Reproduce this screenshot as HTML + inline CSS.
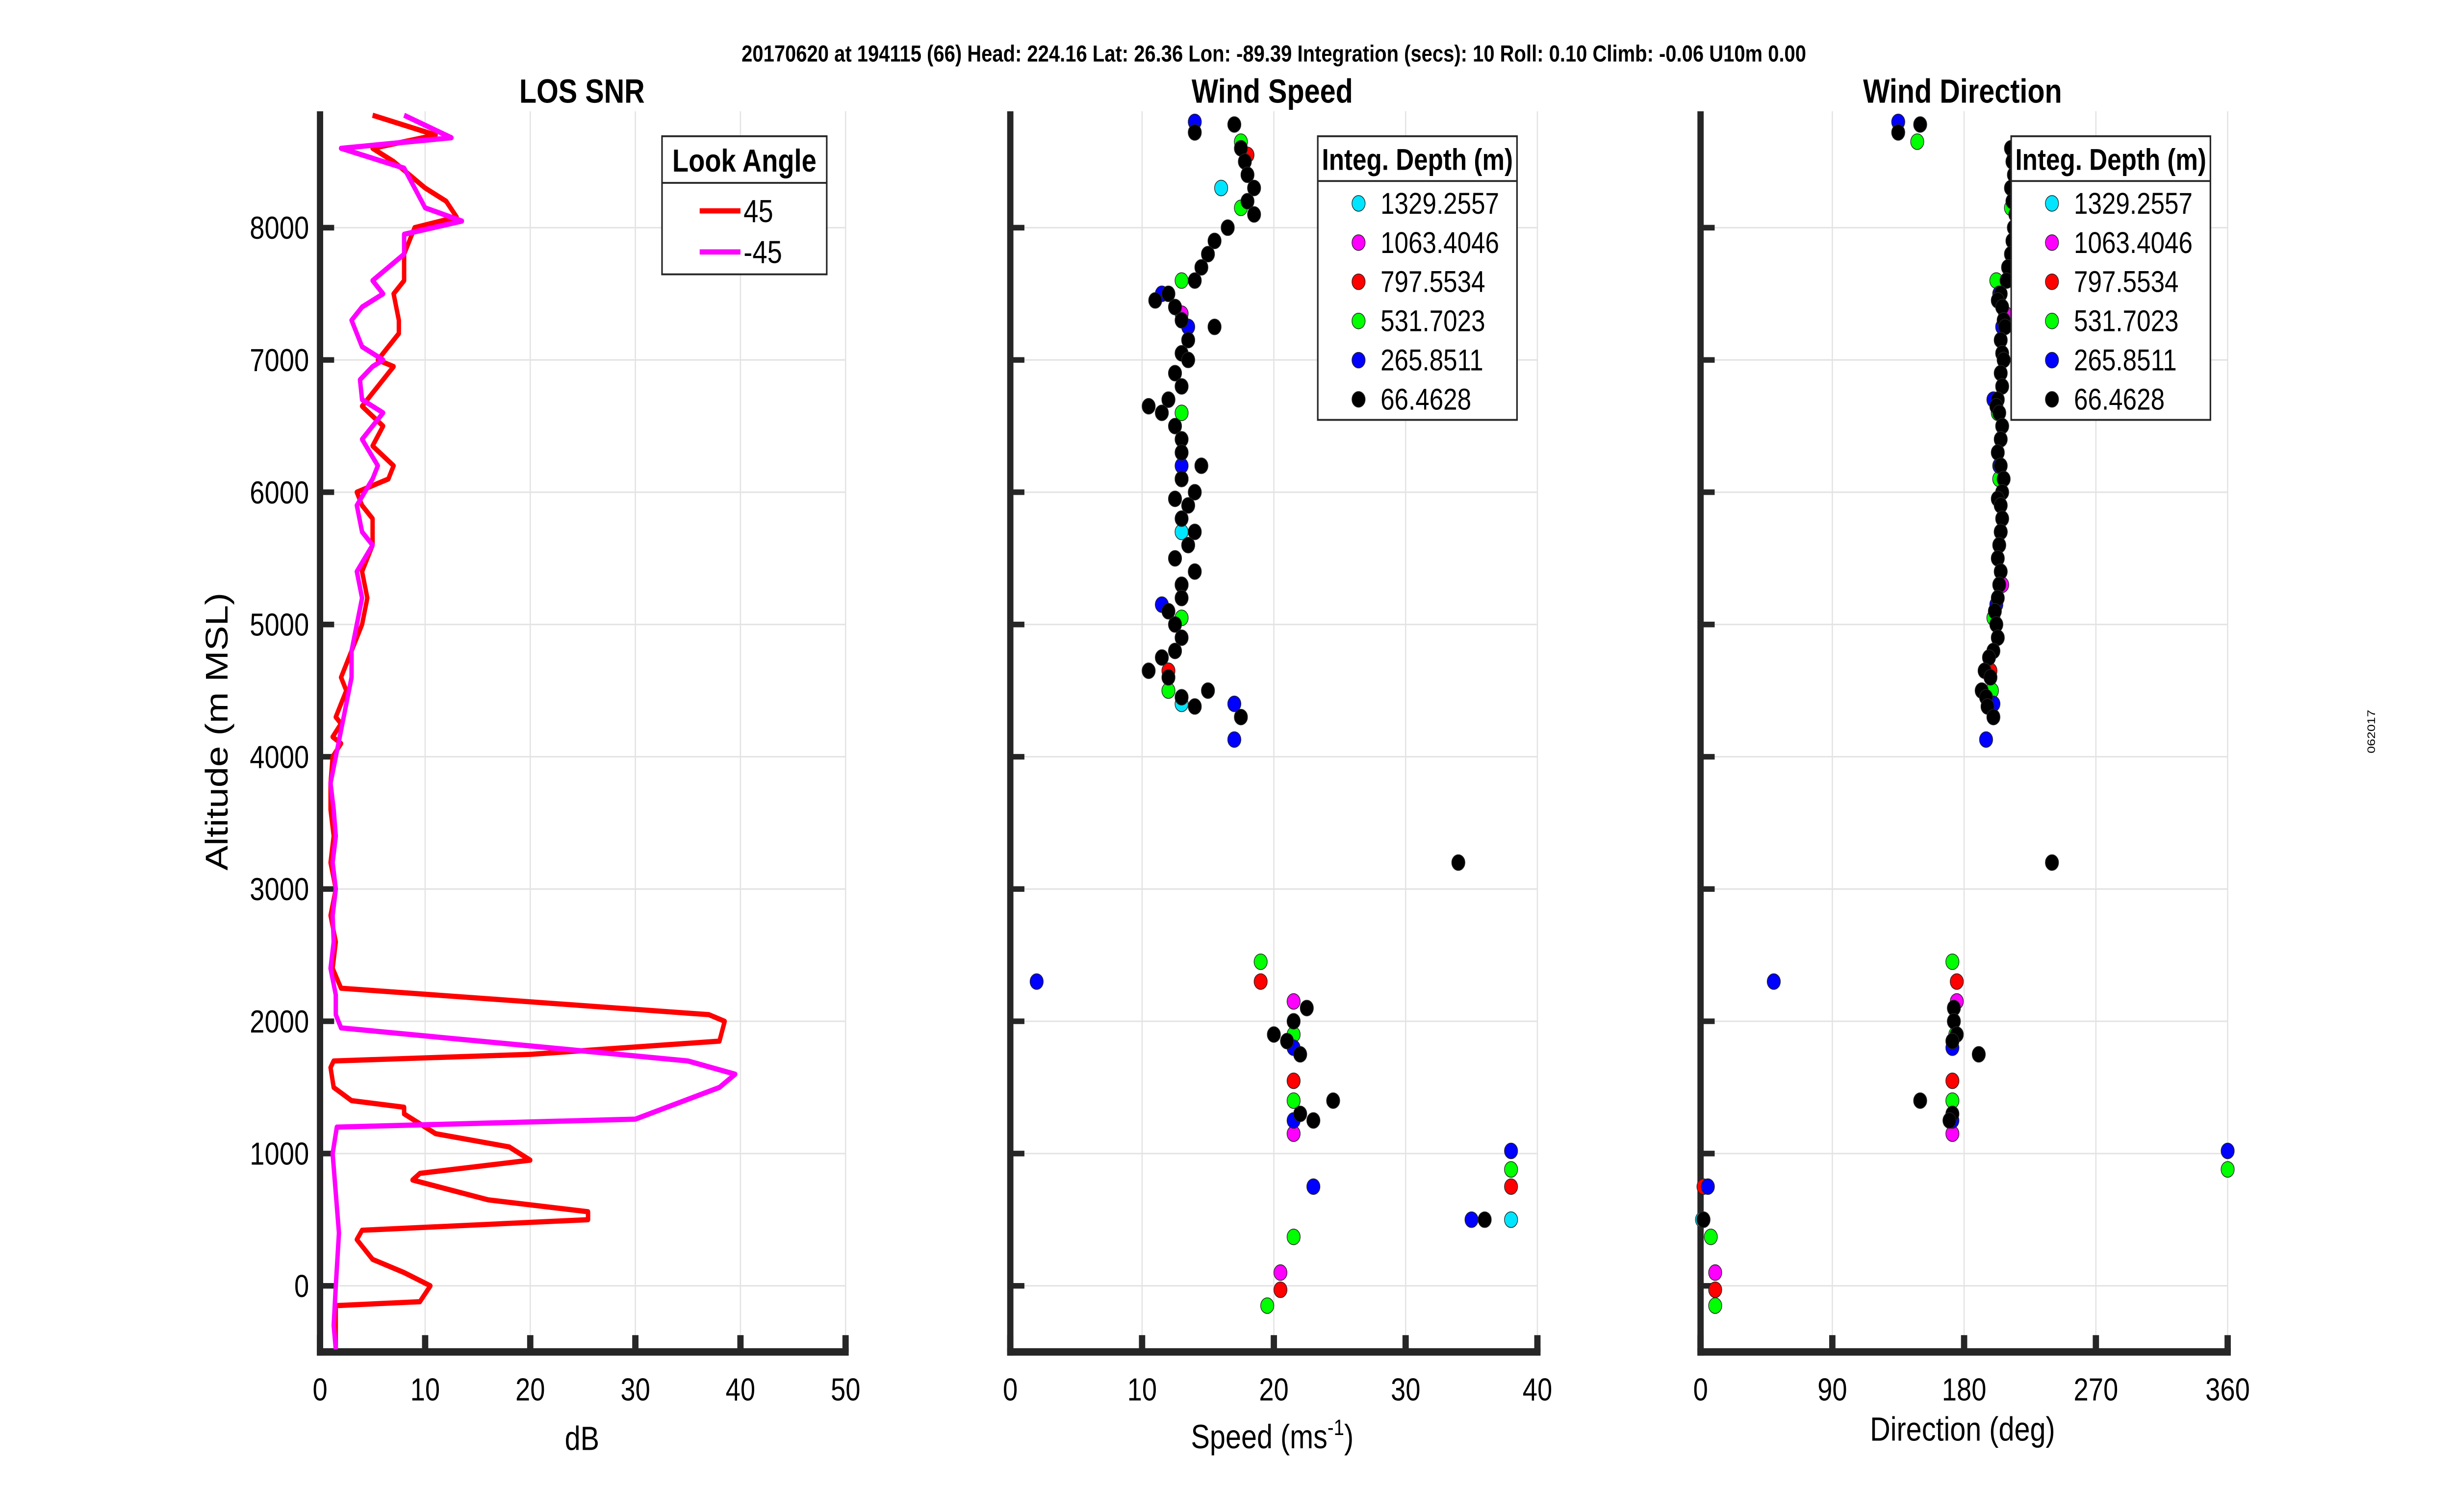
<!DOCTYPE html>
<html><head><meta charset="utf-8">
<style>
html,body{margin:0;padding:0;background:#fff;width:100%;height:100%;overflow:hidden}
svg{display:block;position:absolute;left:0;top:0;width:100vw;height:100vh}
text{font-family:"Liberation Sans",Arial,sans-serif;fill:#000}
</style></head><body>
<svg id="fig" viewBox="0 0 1563 810.2" preserveAspectRatio="none" xmlns="http://www.w3.org/2000/svg">
<rect width="1563" height="810.2" fill="#fff"/>
<text x="812" y="33" font-size="12.5" font-weight="bold" text-anchor="middle">20170620 at 194115 (66)  Head: 224.16  Lat: 26.36  Lon: -89.39  Integration (secs): 10  Roll: 0.10  Climb: -0.06  U10m 0.00</text>
<text x="1514" y="392" font-size="7" transform="rotate(-90 1514 392)" text-anchor="middle">062017</text>
<g id="plots"></g>
</svg>
<script>
// ---- SNR data ----
const snrAlt45 = [-480,-300,-150,-120,0,100,200,350,420,500,560,650,800,850,950,1050,1150,1250,1300,1350,1400,1500,1650,1700,1750,1850,2000,2050,2250,2400,2600,2800,3000,3200,3400,3600,3800,4000,4100,4150,4250,4300,4500,4600,4700,4800,5000,5200,5400,5600,5800,5900,6000,6100,6200,6350,6500,6650,6800,6950,7000,7200,7300,7500,7600,7800,7900,8000,8080,8200,8300,8500,8600,8700,8850];
const snr45 = [1.5,1.5,1.5,9.5,10.5,8,5,3.5,4,25.5,25.5,16,8.8,9.5,20,18,11,9,8,8,3,1.3,1,1.3,20,38,38.5,37,2,1.2,1.5,1,1.5,1,1.3,1,1,1.2,2,1.2,2,1.5,2.5,2,2.5,3,4,4.5,4,5,5,4,3.5,6.5,7,5,6,4,5.5,7,5.5,7.5,7.5,7,8,8,8.5,9,13,12,10,7,5,11,5];
const snrAltm45 = [-480,-300,0,400,800,1000,1200,1260,1500,1600,1700,1950,2050,2200,2400,2600,2800,3000,3200,3400,3600,3800,4000,4200,4400,4600,4800,5000,5200,5400,5600,5700,5900,6100,6200,6400,6600,6700,6850,6950,7000,7100,7300,7400,7500,7600,7800,7950,8050,8150,8300,8450,8600,8680,8850];
const snrm45 = [1.5,1.3,1.5,1.8,1.4,1.2,1.6,30,38,39.5,35,2,1.5,1.5,1,1.3,1.2,1.5,1.2,1.5,1.3,1,1.5,2,2.5,3,3,3.5,4,3.5,5,4,3.5,5,5.5,4,6,4,3.8,5,6,4,3,4,6,5,8,8,13.5,10,9,8,2,12.5,8];
// ---- wind data: per depth series ----
const depthLabels = ['1329.2557','1063.4046','797.5534','531.7023','265.8511','66.4628'];
const depthColors = ['#00e5ff','#ff00ff','#ff0000','#00ff00','#0000ff','#000000'];
const cyanAlt=[8300,5700,4400,500]; const cyanSpd=[16,13,13,38]; const cyanDir=[213,205,200,1];
const magAlt=[7350,5300,2150,1150,100]; const magSpd=[13,13,21.5,21.5,20.5]; const magDir=[208,206,175,172,10];
const redAlt=[8550,4650,2300,1550,750,-30]; const redSpd=[18,12,19,21.5,38,20.5]; const redDir=[214,198,175,172,2,10];
const grnAlt=[8650,8150,7600,6600,6100,5050,4500,2450,1900,1400,880,370,-150]; const grnSpd=[17.5,17.5,13,13,13,13,12,19,21.5,21.5,38,21.5,19.5]; const grnDir=[148,212,202,203,204,200,199,172,174,172,360,7,10];
const bluAlt=[8800,8000,7500,7250,6700,6200,5150,4400,4130,2300,1800,1250,1020,750,500]; const bluSpd=[14,16.5,11.5,13.5,12,13,11.5,17,17,2,21.5,21.5,38,23,35]; const bluDir=[135,214,204,206,200,204,202,200,195,50,172,172,360,5,2];
const blkAlt=[8780,8720,8600,8500,8400,8300,8200,8100,8000,7900,7800,7700,7600,7500,7450,7400,7300,7250,7150,7050,7000,6900,6800,6700,6650,6600,6500,6400,6300,6200,6100,6000,5950,5900,5800,5700,5600,5500,5400,5300,5200,5100,5000,4900,4800,4750,4650,4600,4500,4450,4380,4300,3200,2100,2000,1900,1850,1750,1400,1300,1250,500];
const blkSpd=[17,14,17.5,17.8,18,18.5,18,18.5,16.5,15.5,15,14.5,14,12,11,12.5,13,15.5,13.5,13,13.5,12.5,13,12,10.5,11.5,12.5,13,13,14.5,13,14,12.5,13.5,13,14,13.5,12.5,14,13,13,12,12.5,13,12.5,11.5,10.5,12,15,13,14,17.5,34,22.5,21.5,20,21,22,24.5,22,23,36];
const blkDir=[150,135,212,213,214,212,213,215,214,213,212,210,209,205,203,206,207,208,205,206,207,205,206,203,202,204,206,205,203,205,207,206,203,205,206,205,204,203,205,204,203,201,202,203,200,197,194,198,192,195,196,200,240,173,173,175,172,190,150,172,170,2];
const series=[[cyanAlt,cyanSpd,cyanDir],[magAlt,magSpd,magDir],[redAlt,redSpd,redDir],[grnAlt,grnSpd,grnDir],[bluAlt,bluSpd,bluDir],[blkAlt,blkSpd,blkDir]];
const yTicks=[0,1000,2000,3000,4000,5000,6000,7000,8000];

const NS='http://www.w3.org/2000/svg';
const root=document.getElementById('plots');
function mk(tag,attrs,parent){const e=document.createElementNS(NS,tag);for(const k in attrs)e.setAttribute(k,attrs[k]);(parent||root).appendChild(e);return e;}
const Y0=689, Ypk=70.875, yMin=-500, yMax=8880;
function yS(a){return Y0-a*Ypk/1000;}
const yTop=yS(yMax), yBot=yS(yMin);

function axes(name,x0,x1,xmin,xmax,xticks,xlabels,showY){
  const g=mk('g',{});
  
  
  const xs=v=>x0+(v-xmin)/(xmax-xmin)*(x1-x0);
  yTicks.forEach(t=>{const l=mk('line',{x1:x0,x2:x1,y1:yS(t),y2:yS(t),stroke:'#e3e3e3','stroke-width':0.8},g);
    });
  xticks.forEach(t=>{const l=mk('line',{x1:xs(t),x2:xs(t),y1:yTop,y2:yBot,stroke:'#e3e3e3','stroke-width':0.8},g);
    });
  mk('line',{x1:x0,x2:x0,y1:yTop,y2:yBot+2,stroke:'#262626','stroke-width':4},g);
  mk('line',{x1:x0-2,x2:x1+2,y1:yBot,y2:yBot,stroke:'#262626','stroke-width':4},g);
  yTicks.forEach(t=>{mk('line',{x1:x0,x2:x0+9,y1:yS(t),y2:yS(t),stroke:'#262626','stroke-width':3},g);
    if(showY){const tx=mk('text',{x:x0-7,y:yS(t)+6,'font-size':17,'text-anchor':'end'},g);tx.textContent=t;
      }});
  xticks.forEach((t,i)=>{mk('line',{x1:xs(t),x2:xs(t),y1:yBot,y2:yBot-9,stroke:'#262626','stroke-width':4},g);
    const tx=mk('text',{x:xs(t),y:yBot+26,'font-size':17,'text-anchor':'middle'},g);tx.textContent=xlabels[i];
    });
  return xs;
}
function title(txt,x,name){const t=mk('text',{x:x,y:55,'font-size':18,'font-weight':'bold','text-anchor':'middle'});t.textContent=txt;
  }

// Panel 1
const xs1=axes('snr',204,539,0,50,[0,10,20,30,40,50],['0','10','20','30','40','50'],true);
title('LOS SNR',371,'snr-title');
const yl=mk('text',{x:145,y:392,'font-size':20,'text-anchor':'middle',transform:'rotate(-90 145 392)'});yl.textContent='Altitude (m MSL)';

const xl1=mk('text',{x:371,y:777,'font-size':18,'text-anchor':'middle'});xl1.textContent='dB';

function line(alt,val,col,name){const p=mk('polyline',{points:alt.map((a,i)=>xs1(val[i])+','+yS(a)).join(' '),fill:'none',stroke:col,'stroke-width':2.8,'stroke-linejoin':'round'});
  }
line(snrAlt45,snr45,'#ff0000','snr-line-45');
line(snrAltm45,snrm45,'#ff00ff','snr-line-minus45');
// legend 1
const lg=mk('g',{});
mk('rect',{x:422,y:73,width:105,height:74,fill:'#fff',stroke:'#262626','stroke-width':1},lg);
mk('line',{x1:422,x2:527,y1:98,y2:98,stroke:'#262626','stroke-width':1},lg);
let t=mk('text',{x:474.5,y:92,'font-size':17,'font-weight':'bold','text-anchor':'middle'},lg);t.textContent='Look Angle';
[['45','#ff0000'],['-45','#ff00ff']].forEach((d,i)=>{const yy=113+i*22;mk('line',{x1:446,x2:472,y1:yy,y2:yy,stroke:d[1],'stroke-width':2.8},lg);
  const tt=mk('text',{x:474,y:yy+6,'font-size':17},lg);tt.textContent=d[0];});

// Panels 2 & 3
const xs2=axes('speed',644,980,0,40,[0,10,20,30,40],['0','10','20','30','40'],false);
title('Wind Speed',811,'speed-title');
const xl2=mk('text',{x:811,y:776,'font-size':18,'text-anchor':'middle'});xl2.innerHTML='Speed (ms<tspan dy="-7" font-size="12">-1</tspan><tspan dy="7">)</tspan>';

const xs3=axes('direction',1084,1420,0,360,[0,90,180,270,360],['0','90','180','270','360'],false);
title('Wind Direction',1251,'direction-title');
const xl3=mk('text',{x:1251,y:772,'font-size':18,'text-anchor':'middle'});xl3.textContent='Direction (deg)';


series.forEach((s,k)=>{s[0].forEach((a,i)=>{
  const c1=mk('circle',{cx:xs2(s[1][i]),cy:yS(a),r:4.2,fill:depthColors[k],stroke:'#222','stroke-width':0.4});
  
  const c2=mk('circle',{cx:xs3(s[2][i]),cy:yS(a),r:4.2,fill:depthColors[k],stroke:'#222','stroke-width':0.4});
  
});});

function depthLegend(x,name){const g=mk('g',{});
  mk('rect',{x:x,y:73,width:127,height:152,fill:'#fff',stroke:'#262626','stroke-width':1},g);
  mk('line',{x1:x,x2:x+127,y1:97,y2:97,stroke:'#262626','stroke-width':1},g);
  const tt=mk('text',{x:x+63.5,y:91,'font-size':16,'font-weight':'bold','text-anchor':'middle'},g);tt.textContent='Integ. Depth (m)';
  depthLabels.forEach((l,i)=>{const yy=109+i*21;mk('circle',{cx:x+26,cy:yy,r:4.2,fill:depthColors[i],stroke:'#222','stroke-width':0.4},g);
    const e=mk('text',{x:x+40,y:yy+5.5,'font-size':16},g);e.textContent=l;});}
depthLegend(840,'speed-legend');
depthLegend(1282,'direction-legend');
</script>
</body></html>
